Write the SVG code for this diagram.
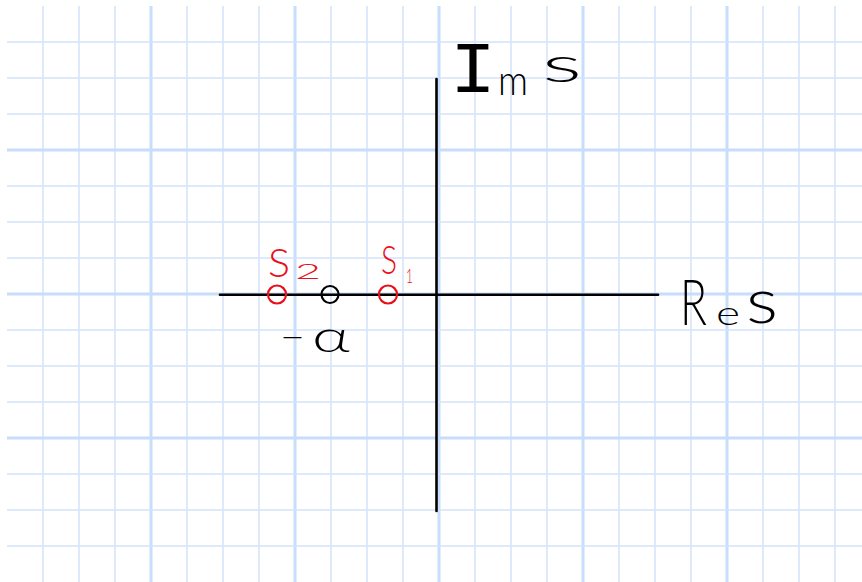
<svg xmlns="http://www.w3.org/2000/svg" width="862" height="582" viewBox="0 0 862 582">
<style>
.thin{stroke:#d4e4fc;stroke-width:1.5;fill:none}
.thick{stroke:#c8ddfb;stroke-width:3;fill:none}
.axis{stroke:#000;stroke-width:2.6;stroke-linecap:round;fill:none}
.pt{fill:none;stroke-width:2.2}
.hand{font-family:Lato,"Open Sans","Liberation Sans",Arial,sans-serif;font-weight:300}
.mono{font-family:"Liberation Mono","Courier New",monospace}
.red{fill:#e8111b}
.blk{fill:#000}
</style>
<rect width="862" height="582" fill="#fff"/>
<g id="grid">
<path class="thin" d="M43 6V582M79 6V582M115 6V582M187 6V582M223 6V582M259 6V582M331 6V582M367 6V582M403 6V582M475 6V582M511 6V582M547 6V582M619 6V582M655 6V582M691 6V582M763 6V582M799 6V582M835 6V582"/>
<path class="thick" d="M151 6V582M295 6V582M439 6V582M583 6V582M727 6V582"/>
<path class="thin" d="M7 42H862M7 78H862M7 114H862M7 186H862M7 222H862M7 258H862M7 330H862M7 366H862M7 402H862M7 474H862M7 510H862M7 546H862"/>
<path class="thick" d="M7 150H862M7 294H862M7 438H862"/>
</g>
<g id="axes">
<path class="axis" d="M220 294.7H658"/>
<path class="axis" d="M436.5 79V511"/>
</g>
<g id="im-label">
<text class="mono blk" x="450" y="92" font-size="72" textLength="46" lengthAdjust="spacingAndGlyphs">I</text>
<text class="hand blk" x="498" y="95" font-size="42" textLength="30" lengthAdjust="spacingAndGlyphs">m</text>
<text class="hand blk" x="542" y="82" font-size="50" textLength="40" lengthAdjust="spacingAndGlyphs">s</text>
</g>
<g id="re-label">
<text class="hand blk" x="680" y="325" font-size="64" textLength="27" lengthAdjust="spacingAndGlyphs">R</text>
<text class="hand blk" x="716" y="325" font-size="34" textLength="24" lengthAdjust="spacingAndGlyphs">e</text>
<text class="hand blk" x="746" y="323" font-size="64" textLength="32" lengthAdjust="spacingAndGlyphs">s</text>
</g>
<g id="s2">
<circle class="pt" cx="277" cy="294.5" r="9" stroke="#e8111b"/>
<text class="hand red" x="268" y="277" font-size="40" textLength="22" lengthAdjust="spacingAndGlyphs">S</text>
<text class="hand red" x="295" y="279" font-size="22" textLength="26" lengthAdjust="spacingAndGlyphs">2</text>
</g>
<g id="alpha">
<circle class="pt" cx="330" cy="294.5" r="8.5" stroke="#000"/>
<text class="hand blk" x="280" y="349" font-size="34" textLength="25" lengthAdjust="spacingAndGlyphs">−</text>
<text class="hand blk" x="312" y="352" font-size="44" textLength="38" lengthAdjust="spacingAndGlyphs">α</text>
</g>
<g id="s1">
<circle class="pt" cx="388" cy="294.5" r="9" stroke="#e8111b"/>
<text class="hand red" x="381" y="274" font-size="40" textLength="16" lengthAdjust="spacingAndGlyphs">S</text>
<text class="hand red" x="406" y="283" font-size="20" textLength="7" lengthAdjust="spacingAndGlyphs">1</text>
</g>
</svg>
